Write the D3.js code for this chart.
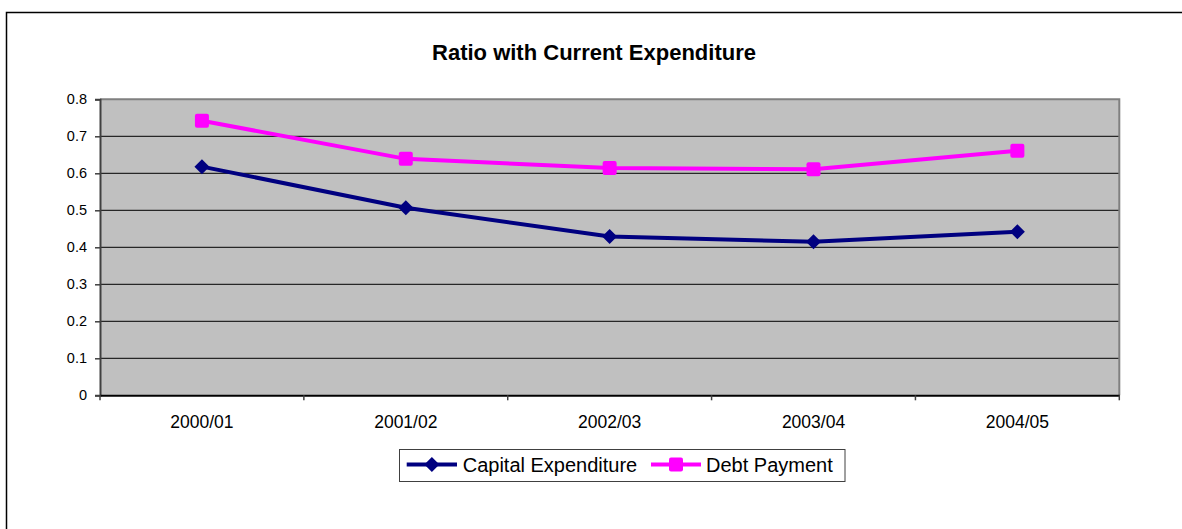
<!DOCTYPE html>
<html>
<head>
<meta charset="utf-8">
<script src="https://cdn.jsdelivr.net/npm/d3@7"></script>
<style>
  html, body { margin: 0; padding: 0; background: #fff; }
  svg { display: block; font-family: "Liberation Sans", Arial, sans-serif; }
</style>
</head>
<body>
<svg id="chart" width="1182" height="529"></svg>
<script>
const categories = ["2000/01", "2001/02", "2002/03", "2003/04", "2004/05"];
const capitalExpenditure = [0.618, 0.507, 0.429, 0.415, 0.442];
const debtPayment = [0.742, 0.639, 0.614, 0.611, 0.661];
const yTicks = [0, 0.1, 0.2, 0.3, 0.4, 0.5, 0.6, 0.7, 0.8];
const seriesNames = ["Capital Expenditure", "Debt Payment"];
const seriesColors = ["#000080", "#FF00FF"];

(function () {
const svg = d3.select("#chart");

// outer chart border (left and top visible)
svg.append("rect").attr("x", 6.5).attr("y", 12.5).attr("width", 1300).attr("height", 600)
  .attr("fill", "none").attr("stroke", "#000").attr("stroke-width", 1.5);

const pLeft = 100, pRight = 1119.3, pTop = 99.3, pBottom = 395.3;
const x = d3.scaleBand().domain(categories).range([pLeft, pRight]).padding(0);
const y = d3.scaleLinear().domain([0, 0.8]).range([pBottom, pTop]);

// title
svg.append("text").attr("x", 594).attr("y", 60).attr("text-anchor", "middle")
  .attr("font-weight", "bold").attr("font-size", 22).attr("fill", "#000")
  .text("Ratio with Current Expenditure");

// plot area
svg.append("rect").attr("x", pLeft).attr("y", pTop).attr("width", pRight - pLeft).attr("height", pBottom - pTop)
  .attr("fill", "#C0C0C0");

// gridlines
svg.append("g").selectAll("line").data(yTicks.filter(d => d > 0 && d < 0.8)).join("line")
  .attr("x1", pLeft).attr("x2", pRight).attr("y1", d => y(d)).attr("y2", d => y(d))
  .attr("stroke", "#000").attr("stroke-width", 1);

// plot border top/right
svg.append("path").attr("d", `M${pLeft},${pTop}H${pRight}V${pBottom}`)
  .attr("fill", "none").attr("stroke", "#808080").attr("stroke-width", 2);

// y axis
const yAxis = svg.append("g").attr("transform", `translate(${pLeft},0)`)
  .call(d3.axisLeft(y).tickValues(yTicks).tickSize(5).tickPadding(8).tickFormat(d => String(+d.toFixed(1))));
yAxis.select(".domain").attr("stroke", "#404040").attr("stroke-width", 2);
yAxis.selectAll(".tick line").attr("stroke", "#404040").attr("stroke-width", 1.5);
yAxis.selectAll("text").attr("font-size", 14.5).attr("fill", "#000").attr("font-family", "Liberation Sans, Arial, sans-serif");

// x axis
const xAxis = svg.append("g").attr("transform", `translate(0,${pBottom})`)
  .call(d3.axisBottom(x).tickSize(0).tickPadding(20));
xAxis.select(".domain").attr("stroke", "#000").attr("stroke-width", 2);
xAxis.selectAll("text").attr("font-size", 17.5).attr("fill", "#000").attr("font-family", "Liberation Sans, Arial, sans-serif");
const boundaries = categories.map(c => x(c)).concat([x(categories[categories.length - 1]) + x.bandwidth()]);
svg.append("g").selectAll("line").data(boundaries).join("line")
  .attr("x1", d => d).attr("x2", d => d).attr("y1", pBottom).attr("y2", pBottom + 5)
  .attr("stroke", "#404040").attr("stroke-width", 1.5);

const cx = c => x(c) + x.bandwidth() / 2;
const line = d3.line().x((d, i) => cx(categories[i])).y(d => y(d));

const diamond = s => `M0,${-s}L${s},0L0,${s}L${-s},0Z`;

function drawSeries(values, color, marker) {
  svg.append("path").datum(values).attr("d", line).attr("fill", "none")
    .attr("stroke", color).attr("stroke-width", 4).attr("stroke-linejoin", "round");
  const g = svg.append("g");
  values.forEach((v, i) => {
    const px = cx(categories[i]), py = y(v);
    if (marker === "diamond") {
      g.append("path").attr("d", diamond(7.5)).attr("transform", `translate(${px},${py})`).attr("fill", color);
    } else {
      g.append("rect").attr("x", px - 7).attr("y", py - 7).attr("width", 14).attr("height", 14)
        .attr("rx", 2).attr("fill", color);
    }
  });
}
drawSeries(capitalExpenditure, seriesColors[0], "diamond");
drawSeries(debtPayment, seriesColors[1], "square");

// legend
svg.append("rect").attr("x", 399.5).attr("y", 449.5).attr("width", 445.5).attr("height", 32)
  .attr("fill", "#fff").attr("stroke", "#404040").attr("stroke-width", 1);
const legendItems = [
  { name: seriesNames[0], color: seriesColors[0], marker: "diamond", x0: 406.7, x1: 457, tx: 462.7 },
  { name: seriesNames[1], color: seriesColors[1], marker: "square", x0: 651, x1: 701, tx: 706 }
];
const ly = 464.5;
legendItems.forEach(it => {
  svg.append("line").attr("x1", it.x0).attr("x2", it.x1).attr("y1", ly).attr("y2", ly)
    .attr("stroke", it.color).attr("stroke-width", 4);
  const mx = (it.x0 + it.x1) / 2;
  if (it.marker === "diamond") {
    svg.append("path").attr("d", diamond(7.5)).attr("transform", `translate(${mx},${ly})`).attr("fill", it.color);
  } else {
    svg.append("rect").attr("x", mx - 7).attr("y", ly - 7).attr("width", 14).attr("height", 14)
      .attr("rx", 2).attr("fill", it.color);
  }
  svg.append("text").attr("x", it.tx).attr("y", 472).attr("font-size", 20).attr("fill", "#000").text(it.name);
});
})();
</script>
</body>
</html>
